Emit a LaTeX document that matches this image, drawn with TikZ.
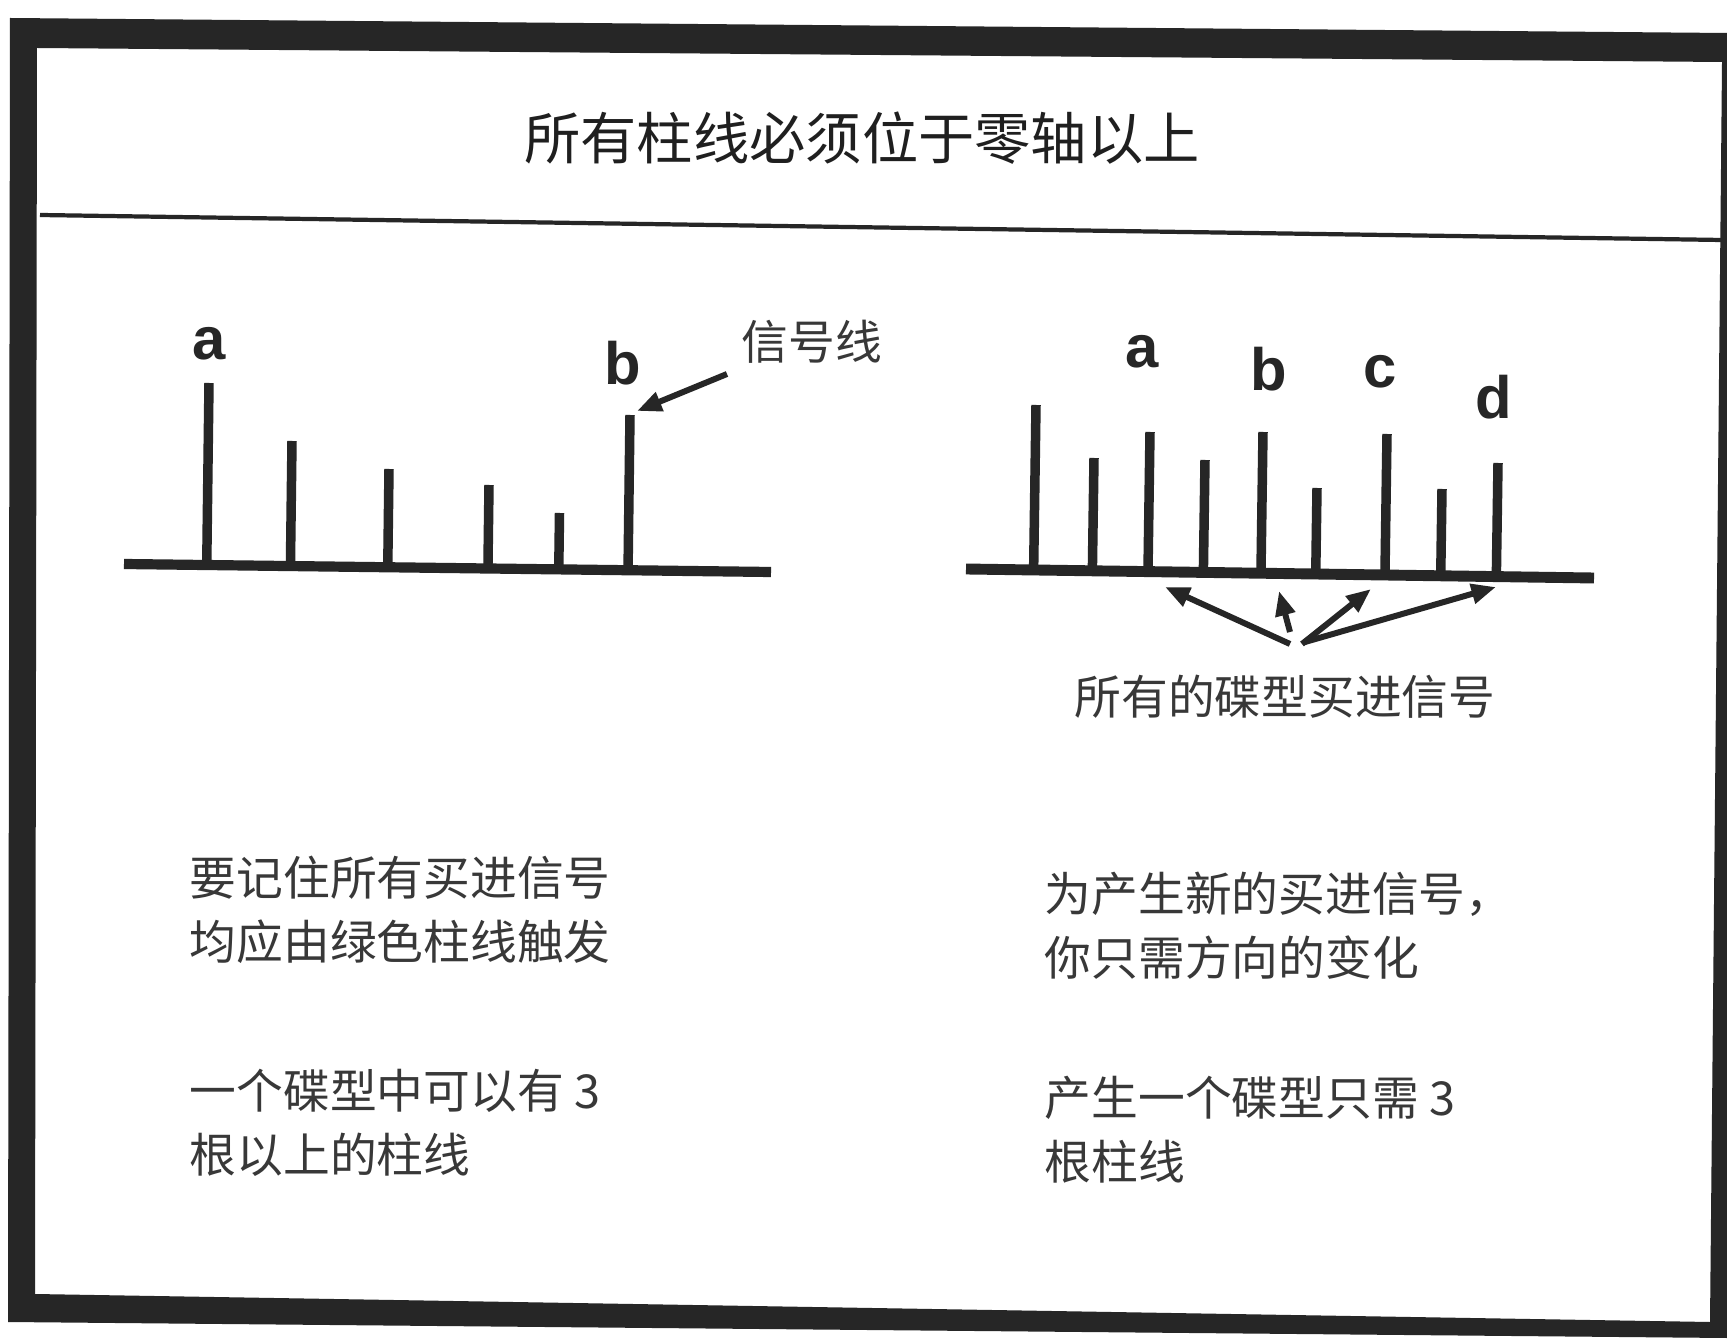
\documentclass[tikz,border=0pt]{standalone}
\usepackage{fontspec}
\setmainfont{Liberation Sans}
\newfontfamily\cjk{Noto Sans CJK SC}
\usetikzlibrary{arrows.meta,calc}
\begin{document}
\begin{tikzpicture}[x=0.01cm,y=-0.01cm,
  bar/.style={line width=2.7pt, draw=black!85},
  axisline/.style={line width=2.9pt, draw=black!85, line cap=butt},
  lbl/.style={font=\fontsize{17}{17}\selectfont\bfseries, text=black!85, inner sep=0},
  body/.style={font=\cjk\fontsize{13.3}{18.1}\selectfont, text=black!78, align=left, anchor=west, inner sep=0},
  ptr/.style={line width=1.7pt, draw=black!85, -{Triangle[length=7pt,width=5.5pt]}}
]
\useasboundingbox (0,0) rectangle (1727,1340);
\fill[white] (0,0) rectangle (1727,1340);

% frame (slightly skewed scan)
\fill[black!85, even odd rule]
  (10,18) -- (1727,33) -- (1727,1338) -- (8,1322) -- cycle
  (37,48) -- (1722,62) -- (1710,1322) -- (35,1294) -- cycle;
\draw[line width=1.2pt, black!85] (40,215) -- (1722,240);

% title
\node[font=\cjk\fontsize{16}{16}\selectfont, text=black!88] (title) at (862,138) {所有柱线必须位于零轴以上};

% ---------- left chart ----------
\coordinate (L0) at (124,564);
\coordinate (L1) at (771,572);
\draw[axisline] (L0) -- (L1);
\foreach \n/\x/\y in {1/209/383, 2/292/441, 3/389/469, 4/489/485, 5/559.5/513, 6/630/415}{
  \coordinate (lt\n) at (\x,\y);
  \draw[bar] (lt\n) -- ($(L0)!(lt\n)!(L1)$);
}
\node[lbl] (la) at (209,344) {a};
\node[lbl] (lb) at (623,363) {b};
\node[font=\cjk\fontsize{13.3}{13.3}\selectfont, text=black!78] (sig) at (812,342) {信号线};
\coordinate (sigtail) at (727,374);
\coordinate (sigtip) at (637,411);
\draw[ptr] (sigtail) -- (sigtip);

% ---------- right chart ----------
\coordinate (R0) at (966,569);
\coordinate (R1) at (1594,578);
\draw[axisline, line width=3.1pt] (R0) -- (R1);
\foreach \n/\x/\y in {1/1036/405, 2/1094/458, 3/1150/432, 4/1205/460, 5/1263/432, 6/1317/488, 7/1387/434, 8/1442/489, 9/1498/463}{
  \coordinate (rt\n) at (\x,\y);
  \draw[bar] (rt\n) -- ($(R0)!(rt\n)!(R1)$);
}
\node[lbl] (ra) at (1142,352) {a};
\node[lbl] (rb) at (1269,369) {b};
\node[lbl] (rc) at (1380,372) {c};
\node[lbl] (rd) at (1494,397) {d};

\coordinate (sA) at (1290,644);
\coordinate (sB) at (1290,632);
\coordinate (sC) at (1302,644);
\coordinate (sD) at (1305,642);
\coordinate (tA) at (1165,587);
\coordinate (tB) at (1279,591);
\coordinate (tC) at (1371,589);
\coordinate (tD) at (1496,587);
\draw[ptr] (sA) -- (tA);
\draw[ptr] (sB) -- (tB);
\draw[ptr] (sC) -- (tC);
\draw[ptr] (sD) -- (tD);
\node[font=\cjk\fontsize{13.3}{13.3}\selectfont, text=black!78] (all) at (1285,697) {所有的碟型买进信号};

% ---------- text blocks ----------
\node[body] (t1) at (189,910) {要记住所有买进信号\\均应由绿色柱线触发};
\node[body] (t2) at (189,1123) {一个碟型中可以有 3\\根以上的柱线};
\node[body] (t3) at (1044,926) {为产生新的买进信号，\\你只需方向的变化};
\node[body] (t4) at (1044,1130) {产生一个碟型只需 3\\根柱线};
\end{tikzpicture}
\end{document}
